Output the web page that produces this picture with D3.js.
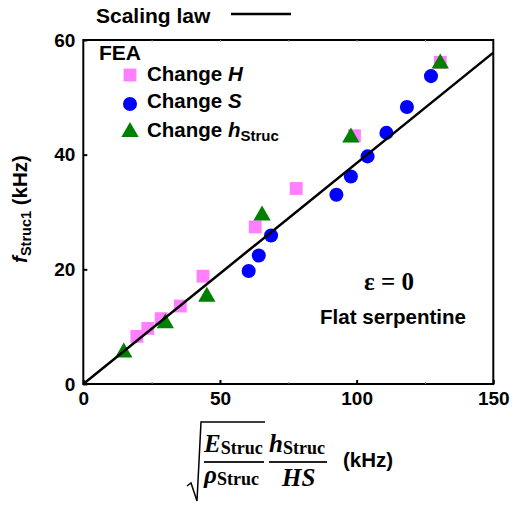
<!DOCTYPE html>
<html>
<head>
<meta charset="utf-8">
<script src="https://cdn.jsdelivr.net/npm/d3@7"></script>
<style>
  body { margin: 0; background: #fff; }
  svg { display: block; }
  text { font-family: "Liberation Sans", Arial, sans-serif; font-weight: bold; fill: #000; }
  .math { font-family: "Liberation Serif", "Times New Roman", serif; }
</style>
</head>
<body>
<div id="chart"></div>
<script>
// FEA results (x: sqrt(E/rho)*h/(HS) in kHz, y: f_Struc1 in kHz)
const changeHX = [19.6, 23.6, 28.5, 35.5, 43.8, 62.9, 77.9, 99.2, 130.6];
const changeHY = [8.3, 9.7, 11.4, 13.6, 18.8, 27.4, 34.1, 43.3, 56.1];

const changeSX = [60.5, 64.2, 68.7, 92.6, 97.9, 104.0, 110.9, 118.4, 127.2];
const changeSY = [19.7, 22.4, 25.9, 33.0, 36.2, 39.7, 43.8, 48.3, 53.7];

const changeHStrucX = [14.8, 30.0, 45.2, 65.4, 97.9, 130.6];
const changeHStrucY = [5.5, 10.6, 15.2, 29.4, 43.0, 55.9];

// scaling law line endpoints
const lawX = [0, 150];
const lawY = [0, 57.8];

const xTicks = [0, 50, 100, 150];
const xMinorTicks = [25, 75, 125];
const yTicks = [0, 20, 40, 60];

const width = 514, height = 506;
const marginTop = 40, marginRight = 20.7, marginBottom = 122, marginLeft = 83.3;

const colH = "#ff80ff", colS = "#0000ff", colT = "#008000";

const x = d3.scaleLinear().domain([0, 150]).range([marginLeft, width - marginRight]);
const y = d3.scaleLinear().domain([0, 60]).range([height - marginBottom, marginTop]);

const svg = d3.select("#chart")
  .append("svg")
  .attr("width", width)
  .attr("height", height)
  .attr("viewBox", [0, 0, width, height]);

// frame
svg.append("rect")
  .attr("x", x(0)).attr("y", y(60))
  .attr("width", x(150) - x(0)).attr("height", y(0) - y(60))
  .attr("fill", "none").attr("stroke", "#000").attr("stroke-width", 2);

// axes
svg.append("g")
  .attr("transform", `translate(0,${y(0)})`)
  .call(d3.axisBottom(x).tickValues(xTicks).tickSize(-4).tickPadding(8).tickFormat(d3.format("d")))
  .call(g => g.select(".domain").remove())
  .call(g => g.selectAll(".tick line").attr("stroke-width", 2))
  .call(g => g.selectAll(".tick text").attr("font-size", 19).attr("font-family", null));

svg.append("g")
  .attr("transform", `translate(0,${y(0)})`)
  .call(d3.axisBottom(x).tickValues(xMinorTicks).tickSize(-2).tickFormat(""))
  .call(g => g.select(".domain").remove())
  .call(g => g.selectAll(".tick line").attr("stroke", "#777"));

svg.append("g")
  .attr("transform", `translate(0,${y(60)})`)
  .call(d3.axisTop(x).tickValues(xMinorTicks.concat([50, 100])).tickSize(-2).tickFormat(""))
  .call(g => g.select(".domain").remove())
  .call(g => g.selectAll(".tick line").attr("stroke", "#999"));

svg.append("g")
  .attr("transform", `translate(${x(0)},0)`)
  .call(d3.axisLeft(y).tickValues(yTicks).tickSize(-4).tickPadding(8).tickFormat(d3.format("d")))
  .call(g => g.select(".domain").remove())
  .call(g => g.selectAll(".tick line").attr("stroke-width", 2))
  .call(g => g.selectAll(".tick text").attr("font-size", 19).attr("font-family", null));

// FEA points
const sq = d3.symbol(d3.symbolSquare, 165);
const ci = d3.symbol(d3.symbolCircle, 155);
const tri = d3.symbol(d3.symbolTriangle, 130);

svg.append("g").attr("fill", colH)
  .selectAll("path").data(d3.zip(changeHX, changeHY)).join("path")
  .attr("transform", d => `translate(${x(d[0])},${y(d[1])})`)
  .attr("d", sq);

svg.append("g").attr("fill", colS)
  .selectAll("path").data(d3.zip(changeSX, changeSY)).join("path")
  .attr("transform", d => `translate(${x(d[0])},${y(d[1])})`)
  .attr("d", ci);

svg.append("g").attr("fill", colT)
  .selectAll("path").data(d3.zip(changeHStrucX, changeHStrucY)).join("path")
  .attr("transform", d => `translate(${x(d[0])},${y(d[1])})`)
  .attr("d", tri);

// scaling law
svg.append("path")
  .datum(d3.zip(lawX, lawY))
  .attr("fill", "none").attr("stroke", "#000").attr("stroke-width", 2.5)
  .attr("d", d3.line().x(d => x(d[0])).y(d => y(d[1])));

// top legend
svg.append("text").attr("x", 96).attr("y", 23).attr("font-size", 21).text("Scaling law");
svg.append("line").attr("x1", 231).attr("x2", 291).attr("y1", 14).attr("y2", 14)
  .attr("stroke", "#000").attr("stroke-width", 2.5);

// FEA legend
svg.append("text").attr("x", 99).attr("y", 60).attr("font-size", 21).text("FEA");
const legend = [
  { sym: sq, col: colH, cy: 75, by: 81, label: "H" },
  { sym: ci, col: colS, cy: 104, by: 108, label: "S" },
  { sym: tri, col: colT, cy: 132, by: 137, label: "h" }
];
legend.forEach(l => {
  svg.append("path").attr("transform", `translate(130,${l.cy})`).attr("d", l.sym).attr("fill", l.col);
  const t = svg.append("text").attr("x", 147).attr("y", l.by).attr("font-size", 20.5);
  t.append("tspan").text("Change ");
  t.append("tspan").attr("font-style", "italic").text(l.label);
  if (l.label === "h") t.append("tspan").attr("font-size", 15).attr("dy", 4).text("Struc");
});

// annotations
svg.append("text").attr("class", "math").attr("x", 389).attr("y", 290)
  .attr("text-anchor", "middle").attr("font-size", 25).text("ε = 0");
svg.append("text").attr("x", 393).attr("y", 324)
  .attr("text-anchor", "middle").attr("font-size", 20.5).text("Flat serpentine");

// y label
const yl = svg.append("text")
  .attr("transform", "translate(27,209) rotate(-90)")
  .attr("text-anchor", "middle").attr("font-size", 20.5);
yl.append("tspan").attr("font-style", "italic").text("f");
yl.append("tspan").attr("font-size", 14.5).attr("dy", 4).text("Struc1");
yl.append("tspan").attr("dy", -4).text(" (kHz)");

// x label: sqrt(E/rho) * h/(HS)
const xl = svg.append("g");
xl.append("path")
  .attr("d", "M187,486 L191,483 L197,501 L201,422 L265,422")
  .attr("fill", "none").attr("stroke", "#000").attr("stroke-width", 1.5);
xl.append("line").attr("x1", 204).attr("x2", 264).attr("y1", 462).attr("y2", 462)
  .attr("stroke", "#222").attr("stroke-width", 1.8);
xl.append("line").attr("x1", 269).attr("x2", 327).attr("y1", 462).attr("y2", 462)
  .attr("stroke", "#222").attr("stroke-width", 1.8);

function frac(x0, y0, main, sub) {
  const t = xl.append("text").attr("class", "math").attr("x", x0).attr("y", y0).attr("font-size", 25);
  t.append("tspan").attr("font-style", "italic").text(main);
  if (sub) t.append("tspan").attr("font-size", 18).attr("dy", 2).text(sub);
}
frac(204, 452, "E", "Struc");
frac(204, 483, "ρ", "Struc");
frac(269, 452, "h", "Struc");
frac(282, 486, "HS", null);
svg.append("text").attr("x", 343).attr("y", 467).attr("font-size", 20.5).text("(kHz)");
</script>
</body>
</html>
